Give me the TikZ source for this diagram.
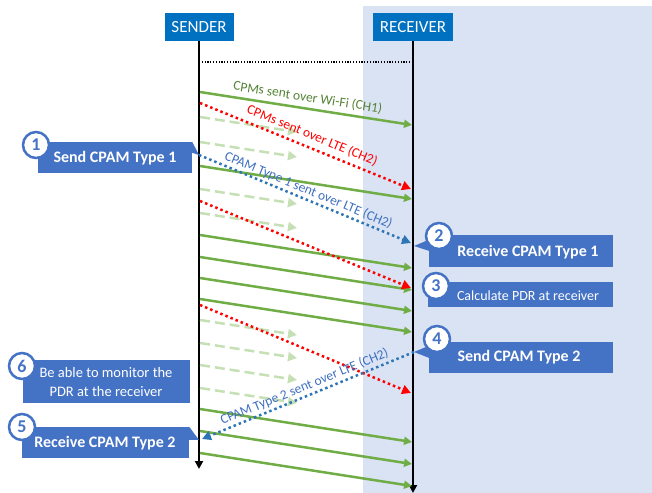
\documentclass[tikz,border=0pt]{standalone}
\usepackage{fontspec}
\setmainfont{Carlito}
\usetikzlibrary{arrows.meta,calc}

\definecolor{hdrblue}{HTML}{0070C0}
\definecolor{callblue}{HTML}{4472C4}
\definecolor{rxshade}{HTML}{DAE3F3}
\definecolor{wifigreen}{HTML}{70AD47}
\definecolor{wifitext}{HTML}{548235}
\definecolor{ghost}{HTML}{C5E0B4}
\definecolor{lteblue}{HTML}{2E75B6}
\definecolor{ltetext}{HTML}{3F6FC0}

\tikzset{
  actor/.style={fill=hdrblue, text=white, minimum height=28bp, inner sep=0pt,
    font=\fontsize{17bp}{19bp}\selectfont},
  lifeline/.style={line width=2.5bp, -{Triangle[length=8bp,width=8bp]}},
  wifimsg/.style={wifigreen, line width=2.5bp, -{Triangle[length=8bp,width=8bp]}},
  ghostmsg/.style={ghost, line width=2.5bp, dash pattern=on 10bp off 5bp,
    -{Triangle[length=9bp,width=9bp]}},
  ltemsg/.style={red, line width=2.5bp, dash pattern=on 2.5bp off 3bp,
    -{Triangle[length=9bp,width=9bp]}},
  cpammsg/.style={lteblue, line width=2.5bp, dash pattern=on 2.5bp off 3bp,
    -{Triangle[length=9bp,width=9bp]}},
  msglabel/.style={sloped, font=\fontsize{13.5bp}{15bp}\selectfont, inner sep=2bp},
  callbox/.style={fill=callblue, inner sep=0pt},
  calltext/.style={text=white, inner sep=0pt, font=\fontsize{16bp}{19bp}\selectfont\bfseries},
  callplain/.style={text=white, inner sep=0pt, align=center,
    font=\fontsize{14.5bp}{19bp}\selectfont},
  badge/.style={circle, fill=white, draw=callblue, line width=2.5bp,
    minimum size=26bp, inner sep=0pt, text=callblue,
    font=\fontsize{18bp}{19bp}\selectfont\bfseries}
}

\begin{document}
\begin{tikzpicture}[x=1bp, y=-1bp]
  \useasboundingbox (0,0) rectangle (652,493);

  % receiver side shading
  \fill[rxshade] (363,6) rectangle (652,493);

  % actors
  \node[actor, minimum width=69bp] (snd) at (199,27) {SENDER};
  \node[actor, minimum width=80bp] (rcv) at (413,27) {RECEIVER};

  % lifelines
  \coordinate (sEnd) at (199,469);
  \coordinate (rEnd) at (413,493);
  \draw[lifeline] (snd.south) -- (sEnd);
  \draw[lifeline] (rcv.south) -- (rEnd);

  % synchronisation line
  \coordinate (syncS) at (199,62);
  \coordinate (syncR) at (413,62);
  \draw[dash pattern=on 1.2bp off 1.6bp, line width=1.2bp] (syncS) -- (syncR);

  % periodic CPMs over Wi-Fi
  \draw[wifimsg] (200,92) -- (412,125)
    node[msglabel, midway, above=2bp, text=wifitext] {CPMs sent over Wi-Fi (CH1)};
  \foreach \y in {166,235,257,278,299,409,431,453}
    \draw[wifimsg] (200,\y) -- (412,\y+33);

  % lost Wi-Fi CPMs
  \foreach \y in {117,142,189,213,320,343,365,388}
    \draw[ghostmsg] (200,\y) -- (297,\y+15);

  % CPMs over LTE
  \draw[ltemsg] (200,103) -- (411,189)
    node[msglabel, pos=0.51, above=3bp, text=red] {CPMs sent over LTE (CH2)};
  \draw[ltemsg] (200,201) -- (411,288);
  \draw[ltemsg] (200,305) -- (411,393);

  % step 1
  \node[callbox, minimum width=154bp, minimum height=31bp] (c1) at (115,157.5) {};
  \node[calltext] (t1) at (115,158) {Send CPAM Type 1};
  \coordinate (p1) at (199,155);
  \fill[callblue] (c1.north east) -- (p1) -- ($(c1.north east)+(0,11)$) -- cycle;
  \node[badge] (b1) at (36,145) {1};

  % CPAM type 1
  \coordinate (q1) at (411,243);
  \draw[cpammsg] (p1) -- (q1)
    node[msglabel, pos=0.5, above=0bp, text=ltetext] {CPAM Type 1 sent over LTE (CH2)};

  % step 2
  \node[callbox, minimum width=184bp, minimum height=32bp] (c2) at (521,251) {};
  \node[calltext] (t2) at (528,252) {Receive CPAM Type 1};
  \coordinate (p2) at (414,246);
  \fill[callblue] ($(c2.north west)+(0,5)$) -- (p2) -- ($(c2.north west)+(0,16)$) -- cycle;
  \node[badge] (b2) at (439,236) {2};

  % step 3
  \node[callbox, minimum width=185bp, minimum height=25bp] (c3) at (520.5,294.5) {};
  \node[callplain, font=\fontsize{14bp}{17bp}\selectfont] (t3) at (528,296) {Calculate PDR at receiver};
  \node[badge] (b3) at (436,286) {3};

  % step 4
  \node[callbox, minimum width=184bp, minimum height=31bp] (c4) at (521,357.5) {};
  \node[calltext] (t4) at (519,357) {Send CPAM Type 2};
  \coordinate (p4) at (414,352);
  \fill[callblue] ($(c4.north west)+(0,4)$) -- (p4) -- ($(c4.north west)+(0,16)$) -- cycle;
  \node[badge] (b4) at (437,339) {4};

  % CPAM type 2
  \coordinate (q4) at (202,439);
  \draw[cpammsg] (p4) -- (q4)
    node[msglabel, pos=0.5, above=0bp, text=ltetext] {CPAM Type 2 sent over LTE (CH2)};

  % step 6
  \node[callbox, minimum width=167bp, minimum height=43bp] (c6) at (106.5,381.5) {};
  \node[callplain] (t6) at (106,382) {Be able to monitor the\\PDR at the receiver};
  \node[badge] (b6) at (22,366) {6};

  % step 5
  \node[callbox, minimum width=167bp, minimum height=31bp] (c5) at (105.5,442.5) {};
  \node[calltext] (t5) at (105,443) {Receive CPAM Type 2};
  \coordinate (p5) at (199,440);
  \fill[callblue] (c5.north east) -- (p5) -- ($(c5.north east)+(0,13)$) -- cycle;
  \node[badge] (b5) at (22,427) {5};
\end{tikzpicture}
\end{document}
